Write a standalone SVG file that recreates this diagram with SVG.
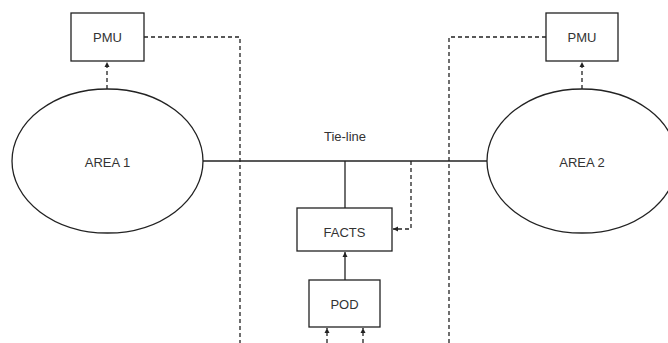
<svg xmlns="http://www.w3.org/2000/svg" width="668" height="343" viewBox="0 0 668 343">
<defs>
<marker id="ah" markerWidth="6" markerHeight="6" refX="5" refY="3" orient="auto" markerUnits="userSpaceOnUse">
<path d="M0,0.5 L5,3 L0,5.5 Z" fill="#222"/>
</marker>
<style>
.box{fill:#fff;stroke:#222;stroke-width:1.3}
.lbl{font-family:"Liberation Sans",Arial,sans-serif;font-size:13px;fill:#333;text-anchor:middle;dominant-baseline:central}
.solid{fill:none;stroke:#222;stroke-width:1.3}
.dash{fill:none;stroke:#222;stroke-width:1.3;stroke-dasharray:4 3}
</style>
</defs>
<rect width="668" height="343" fill="#fff"/>
<g id="connectors">
<line class="solid" x1="203" y1="161" x2="487" y2="161"/>
<line class="solid" x1="345" y1="161" x2="345" y2="208"/>
<line class="solid" x1="345" y1="280" x2="345" y2="252" marker-end="url(#ah)"/>
<polyline class="dash" points="144,37 240,37 240,343"/>
<polyline class="dash" points="546,37 449,37 449,343"/>
<line class="dash" x1="107" y1="89" x2="107" y2="62" marker-end="url(#ah)"/>
<line class="dash" x1="582" y1="89" x2="582" y2="62" marker-end="url(#ah)"/>
<polyline class="dash" points="411,161 411,229 393,229" marker-end="url(#ah)"/>
<line class="dash" x1="327" y1="343" x2="327" y2="328" marker-end="url(#ah)"/>
<line class="dash" x1="363" y1="343" x2="363" y2="328" marker-end="url(#ah)"/>
<text class="lbl" x="345" y="136">Tie-line</text>
</g>
<g id="pmu1"><rect class="box" x="71" y="13" width="73" height="48"/><text class="lbl" x="107.5" y="37">PMU</text></g>
<g id="pmu2"><rect class="box" x="546" y="13" width="72" height="48"/><text class="lbl" x="582" y="37">PMU</text></g>
<g id="area1"><ellipse class="box" cx="107.5" cy="161" rx="95.5" ry="72"/><text class="lbl" x="107.5" y="162">AREA 1</text></g>
<g id="area2"><ellipse class="box" cx="582" cy="161" rx="95" ry="72"/><text class="lbl" x="582" y="162">AREA 2</text></g>
<g id="facts"><rect class="box" x="297" y="208" width="95" height="43"/><text class="lbl" x="344.5" y="232">FACTS</text></g>
<g id="pod"><rect class="box" x="309" y="280" width="71" height="47"/><text class="lbl" x="344.5" y="304">POD</text></g>
</svg>
